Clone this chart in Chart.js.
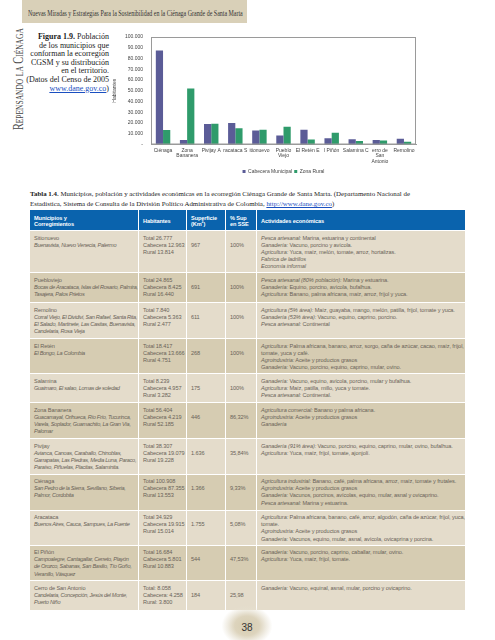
<!DOCTYPE html>
<html>
<head>
<meta charset="utf-8">
<script src="https://cdn.jsdelivr.net/npm/chart.js@4.4.0/dist/chart.umd.min.js"></script>
<style>
  body { margin: 0; width: 495px; height: 640px; position: relative; overflow: hidden; background: #fff; font-family: "Liberation Serif", serif; color: #222; }
  #band { position: absolute; left: 22px; top: 0; width: 225px; height: 23px; background: #d9d0b8; }
  #bandText { position: absolute; left: 28px; top: 9px; font-size: 9px; line-height: 9px; white-space: nowrap; color: #333; transform-origin: left top; }
  #sideWrap { position: absolute; left: 9px; top: 130px; transform-origin: left top; transform: rotate(-90deg); }
  #sideText { display: inline-block; font-size: 15px; line-height: 15px; font-variant: small-caps; white-space: nowrap; color: #444; transform-origin: left top; }
  #figCap { position: absolute; left: 14px; top: 33px; width: 95px; text-align: right; font-size: 8px; line-height: 8.6px; white-space: nowrap; }
  #figCap a { color: #1a4fc0; text-decoration: underline; }
  #chartBox { position: absolute; left: 112px; top: 26px; width: 306px; height: 158px; }
  #tblCap { position: absolute; left: 30px; top: 189px; font-size: 6.9px; line-height: 10px; white-space: nowrap; }
  #tblCap a { color: #1a4fc0; text-decoration: underline; }
  #tbl { position: absolute; left: 30px; top: 210px; width: 435px; font-family: "Liberation Sans", sans-serif; font-size: 5.6px; line-height: 7.2px; color: #6a6358; letter-spacing: -0.1px; }
  .row { display: flex; box-sizing: border-box; border-bottom: 1px solid #fff; }
  .cell { box-sizing: border-box; border-right: 1px solid #fff; padding: 3.5px 0 0 4px; white-space: nowrap; overflow: hidden; }
  .cell:last-child { border-right: none; }
  .cell.first i { letter-spacing: -0.3px; }
  .hdr { background: #0a63ad; color: #fff; font-weight: bold; line-height: 6px; }
  .hdr .cell { padding-top: 4.5px; }
  .hdr .cell.one { padding-top: 7.5px; }
  i { font-style: italic; }
  #pageNum { position: absolute; left: 222px; top: 606px; width: 50px; height: 36px; background: radial-gradient(ellipse at 50% 55%, #d6ccb0 0%, #ddd4bd 35%, rgba(230,224,208,0.6) 55%, rgba(255,255,255,0) 72%); font-family: "Liberation Sans", sans-serif; font-size: 10px; text-align: center; line-height: 44px; color: #333; }
</style>
</head>
<body>
<div id="band"></div>
<div id="bandText">Nuevas Miradas y Estrategias Para la Sostenibilidad en la Ciénaga Grande de Santa Marta</div>
<div id="sideWrap"><span id="sideText">Repensando la Ciénaga</span></div>
<div id="figCap"><b>Figura 1.9.</b> Población<br>de los municipios que<br>conforman la ecorregión<br>CGSM y su distribución<br>en el territorio.<br>(Datos del Censo de 2005<br><a>www.dane.gov.co</a>)</div>
<div id="chartBox"><canvas id="popChart"></canvas></div>
<div id="tblCap"><b>Tabla 1.4.</b> Municipios, población y actividades económicas en la ecorregión Ciénaga Grande de Santa Marta. (Departamento Nacional de<br>Estadística, Sistema de Consulta de la División Político Administrativa de Colombia, <a>http://www.dane.gov.co</a>)</div>
<div id="tbl"></div>
<div id="pageNum">38</div>

<script>
// chart data (labels are cropped in the original figure)
const categories = ["Ciénaga", ["Zona", "Bananera"], "Pivijay A", "racataca S", "itionuevo", ["Pueblo", "Viejo"], "El Retén E", "l Piñón", "Salamina C", ["erro de", "San", "Antonio"], "Remolino"];
const cabecera = [87355, 4219, 19079, 19915, 12963, 8425, 13666, 5801, 4957, 4258, 5363];
const rural = [13553, 52185, 19228, 15014, 13814, 16440, 4751, 10883, 3282, 3800, 2477];
const seriesNames = ["Cabecera Municipal", "Zona Rural"];

// table data
const tableHeader = ["Municipios y<br>Corregimientos", "Habitantes", "Superficie<br>(Km<sup style='font-size:3.5px;line-height:0'>2</sup>)", "% Sup<br>en SSE", "Actividades económicas"];
const municipios = ["Sitionuevo", "Puebloviejo", "Remolino", "El Retén", "Salamina", "Zona Bananera", "Pivijay", "Ciénaga", "Aracataca", "El Piñón", "Cerro de San Antonio"];
const corregimientos = [
  ["Buenavista, Nuevo Venecia, Palermo"],
  ["Bocas de Aracataca, Islas del Rosario, Palmira,", "Tasajera, Palos Prietos"],
  ["Corral Viejo, El Dividivi, San Rafael, Santa Rita,", "El Salado, Martinete, Las Casitas, Buenavista,", "Candelaria, Rosa Vieja"],
  ["El Bongo, La Colombia"],
  ["Guaimaro, El salao, Lomas de soledad"],
  ["Guacamayal, Orihueca, Río Frío, Tucurinca,", "Varela, Soplador, Guamachito, La Gran Vía,", "Palomar"],
  ["Avianca, Canoas, Caraballo, Chinoblas,", "Garrapatas, Las Piedras, Media Luna, Paraco,", "Paraíso, Piñuelas, Placitas, Salaminita."],
  ["San Pedro de la Sierra, Sevillano, Siberia,", "Palmor, Cordobita"],
  ["Buenos Aires, Cauca, Sampues, La Fuente"],
  ["Campoalegre, Cantagallar, Cerreto, Playón", "de Orozco, Sabanas, San Basilio, Tío Goño,", "Veranillo, Vásquez"],
  ["Candelaria, Concepción, Jesús del Monte,", "Puerto Niño"]
];
const habitantes = [
  ["Total 26.777", "Cabecera 12.963", "Rural 13.814"],
  ["Total 24.865", "Cabecera 8.425", "Rural 16.440"],
  ["Total 7.840", "Cabecera 5.363", "Rural 2.477"],
  ["Total 18.417", "Cabecera 13.666", "Rural 4.751"],
  ["Total 8.239", "Cabecera 4.957", "Rural 3.282"],
  ["Total 56.404", "Cabecera 4.219", "Rural 52.185"],
  ["Total 38.307", "Cabecera 19.079", "Rural 19.228"],
  ["Total 100.908", "Cabecera 87.355", "Rural 13.553"],
  ["Total 34.929", "Cabecera 19.915", "Rural 15.014"],
  ["Total 16.684", "Cabecera 5.801", "Rural 10.883"],
  ["Total: 8.058", "Cabecera: 4.258", "Rural: 3.800"]
];
const superficie = ["967", "691", "611", "268", "175", "446", "1.636", "1.366", "1.755", "544", "184"];
const pctSup = ["100%", "100%", "100%", "100%", "100%", "86,32%", "35,84%", "9,33%", "5,08%", "47,53%", "25,98"];
const actividades = [
  [["Pesca artesanal:", " Marina, estuarina y continental"], ["Ganadería:", " Vacuno, porcino y avícola."], ["Agricultura:", " Yuca, maíz, melón, tomate, arroz, hortalizas."], ["Fabrica de ladrillos", ""], ["Economía informal", ""]],
  [["Pesca artesanal (80% población):", " Marina y estuarina."], ["Ganadería:", " Equino, porcino, avícola, bufalhua."], ["Agricultura:", " Banano, palma africana, maíz, arroz, fríjol y yuca."]],
  [["Agricultura (5% área):", " Maíz, guayaba, mango, melón, patilla, fríjol, tomate y yuca."], ["Ganadería (53% área):", " Vacuno, equino, caprino, porcino."], ["Pesca artesanal:", " Continental"]],
  [["Agricultura:", " Palma africana, banano, arroz, sorgo, caña de azúcar, cacao, maíz, fríjol,"], ["", "tomate, yuca y café."], ["Agroindustria:", " Aceite y productos grasos"], ["Ganadería:", " Vacuno, porcino, equino, caprino, mular, ovino."]],
  [["Ganadería:", " Vacuno, equino, avícola, porcino, mular y bufalhua."], ["Agricultura:", " Maíz, patilla, millo, yuca y tomate."], ["Pesca artesanal:", " Continental."]],
  [["Agricultura comercial:", " Banano y palma africana."], ["Agroindustria:", " Aceite y productos grasos"], ["Ganadería", ""]],
  [["Ganadería (91% área):", " Vacuno, porcino, equino, caprino, mular, ovino, bufalhua."], ["Agricultura:", " Yuca, maíz, fríjol, tomate, ajonjolí."]],
  [["Agricultura industrial:", " Banano, café, palma africana, arroz, maíz, tomate y frutales."], ["Agroindustria:", " Aceite y productos grasos"], ["Ganadería:", " Vacunos, porcinos, avícolas, equino, mular, asnal y ovicaprino."], ["Pesca artesanal:", " Marina y estuarina."]],
  [["Agricultura:", " Palma africana, banano, café, arroz, algodón, caña de azúcar, fríjol, yuca,"], ["", "tomate."], ["Agroindustria:", " Aceite y productos grasos"], ["Ganadería:", " Vacunos, equino, mular, asnal, avícola, ovicaprina y porcina."]],
  [["Ganadería:", " Vacuno, porcino, caprino, caballar, mular, ovino."], ["Agricultura:", " Yuca, maíz, fríjol, tomate."]],
  [["Ganadería:", " Vacuno, equinal, asnal, mular, porcino y ovicaprino."]]
];

// layout of the table
const colWidths = [109, 48, 39, 31, 208];
const rowHeights = [42, 30, 36, 35, 29, 36, 35.5, 36, 35, 35.5, 29.5];

function buildTable() {
  const tbl = document.getElementById("tbl");
  let html = `<div class="row hdr" style="height:21px">`;
  tableHeader.forEach((h, i) => {
    const cls = h.includes("<br>") ? "cell" : "cell one";
    html += `<div class="${cls}" style="width:${colWidths[i]}px">${h}</div>`;
  });
  html += `</div>`;
  municipios.forEach((m, r) => {
    const bg = r % 2 === 0 ? "#e4dccb" : "#d6ccb2";
    const acts = actividades[r]
      .map(([label, text]) => `<i>${label}</i>${text}`)
      .join("<br>");
    html += `
      <div class="row" style="height:${rowHeights[r]}px;background:${bg}">
        <div class="cell first" style="width:${colWidths[0]}px">${m}<br><i>${corregimientos[r].join("<br>")}</i></div>
        <div class="cell" style="width:${colWidths[1]}px">${habitantes[r].join("<br>")}</div>
        <div class="cell" style="width:${colWidths[2]}px;padding-top:10.5px">${superficie[r]}</div>
        <div class="cell" style="width:${colWidths[3]}px;padding-top:10.5px">${pctSup[r]}</div>
        <div class="cell" style="width:${colWidths[4]}px">${acts}</div>
      </div>`;
  });
  tbl.innerHTML = html;
}

function fitWidth(el, w) {
  const s = w / el.scrollWidth;
  el.style.transform = `scaleX(${s})`;
}

const frame = {
  id: "frame",
  afterDraw(chart) {
    const { ctx, chartArea } = chart;
    ctx.save();
    ctx.strokeStyle = "#9a9a9a";
    ctx.lineWidth = 1;
    ctx.strokeRect(chartArea.left + 0.5, chartArea.top + 0.5, chartArea.width - 1, chartArea.height - 1);
    ctx.restore();
  },
};

function renderChart() {
  const ctx = document.getElementById("popChart").getContext("2d");
  new Chart(ctx, {
    type: "bar",
    data: {
      labels: categories,
      datasets: [
        { label: seriesNames[0], data: cabecera, backgroundColor: "#5b5c97" },
        { label: seriesNames[1], data: rural, backgroundColor: "#2f9b6b" },
      ],
    },
    options: {
      responsive: true,
      maintainAspectRatio: false,
      animation: false,
      layout: { padding: { top: 5, right: 2, bottom: 0, left: 0 } },
      datasets: { bar: { categoryPercentage: 0.6, barPercentage: 1 } },
      plugins: {
        legend: {
          position: "bottom",
          fullSize: false,
          labels: { boxWidth: 3, boxHeight: 3, padding: 2, color: "#444", font: { size: 5, family: "Liberation Sans" } },
        },
        tooltip: { enabled: false },
      },
      scales: {
        x: {
          grid: { display: false, drawTicks: false },
          border: { color: "#9a9a9a" },
          ticks: { autoSkip: false, maxRotation: 0, padding: 3, color: "#444", font: { size: 5, family: "Liberation Sans", lineHeight: 1.1 } },
        },
        y: {
          min: 0,
          max: 100000,
          grid: { display: false, drawTicks: false },
          border: { color: "#9a9a9a" },
          afterFit: (scale) => { scale.width = 39; },
          ticks: {
            stepSize: 10000,
            padding: 8,
            color: "#444",
            font: { size: 5, family: "Liberation Sans" },
            callback: (v) => (v === 0 ? "-" : v.toLocaleString("de-DE")),
          },
          title: { display: true, text: "Habitantes", color: "#444", padding: 0, font: { size: 5, family: "Liberation Sans" } },
        },
      },
    },
    plugins: [frame],
  });
}

buildTable();
fitWidth(document.getElementById("bandText"), 215);
fitWidth(document.getElementById("sideText"), 102);
renderChart();
</script>
</body>
</html>
